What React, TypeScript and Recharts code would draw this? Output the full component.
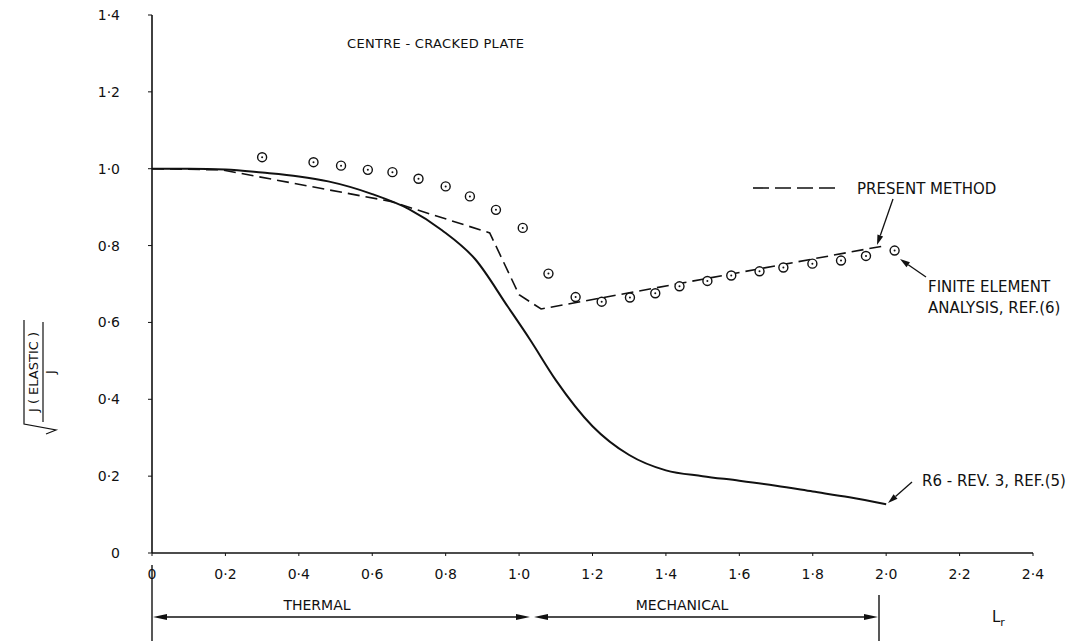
import { ComposedChart, Line, Scatter, XAxis, YAxis } from 'recharts';

// R6 - Rev. 3 curve (solid)
const r6X = [0, 0.1, 0.2, 0.3, 0.4, 0.48, 0.6, 0.7, 0.79, 0.88, 0.97, 1.03, 1.1, 1.2, 1.3, 1.4, 1.5, 1.6, 1.7, 1.8, 1.9, 2.0];
const r6Y = [1.0, 1.0, 0.998, 0.99, 0.98, 0.967, 0.934, 0.895, 0.84, 0.765, 0.64, 0.555, 0.45, 0.33, 0.255, 0.215, 0.2, 0.188, 0.175, 0.16, 0.145, 0.127];

// present method (dashed)
const pmX = [0, 0.19, 0.65, 0.92, 1.0, 1.06, 1.97, 2.0];
const pmY = [1.0, 0.997, 0.915, 0.833, 0.672, 0.635, 0.795, 0.8];

// finite element analysis points
const feX = [0.3, 0.44, 0.515, 0.588, 0.655, 0.726, 0.8, 0.866, 0.937, 1.01, 1.08, 1.154, 1.225, 1.302, 1.371, 1.437, 1.513, 1.578, 1.655, 1.72, 1.799, 1.877, 1.945, 2.023];
const feY = [1.03, 1.017, 1.008, 0.997, 0.991, 0.974, 0.954, 0.928, 0.893, 0.846, 0.727, 0.666, 0.654, 0.665, 0.676, 0.694, 0.708, 0.722, 0.733, 0.743, 0.753, 0.761, 0.773, 0.787];

const xTicks = [0, 0.2, 0.4, 0.6, 0.8, 1.0, 1.2, 1.4, 1.6, 1.8, 2.0, 2.2, 2.4];
const yTicks = [0, 0.2, 0.4, 0.6, 0.8, 1.0, 1.2, 1.4];

const r6Data = r6X.map((x, i) => ({ x, y: r6Y[i] }));
const pmData = pmX.map((x, i) => ({ x, y: pmY[i] }));
const feData = feX.map((x, i) => ({ x, y: feY[i] }));

const FONT = '"DejaVu Sans", sans-serif';
const INK = '#111';

const fmt = (v: number) => (v === 0 ? '0' : v.toFixed(1).replace('.', '·'));

const RingDot = (props: any) => {
  const { cx, cy } = props;
  return (
    <g>
      <circle cx={cx} cy={cy} r={4.5} fill="#fff" stroke={INK} strokeWidth={1.4} />
      <circle cx={cx} cy={cy} r={1} fill={INK} />
    </g>
  );
};

const Arrow = ({ x1, y1, x2, y2, len = 10, w = 3 }: any) => {
  const a = Math.atan2(y2 - y1, x2 - x1);
  const bx = x2 - len * Math.cos(a);
  const by = y2 - len * Math.sin(a);
  const px = -Math.sin(a) * w;
  const py = Math.cos(a) * w;
  return (
    <g>
      <line x1={x1} y1={y1} x2={bx} y2={by} stroke={INK} strokeWidth={1.3} />
      <polygon points={`${x2},${y2} ${bx + px},${by + py} ${bx - px},${by - py}`} fill={INK} />
    </g>
  );
};

export default function App() {
  return (
    <div style={{ position: 'absolute', left: 0, top: 0, width: 1091, height: 641, background: '#fff' }}>
      <ComposedChart
        width={1091}
        height={641}
        margin={{ top: 15, right: 58, bottom: 58, left: 112 }}
      >
        <XAxis
          type="number"
          dataKey="x"
          domain={[0, 2.4]}
          ticks={xTicks}
          tickFormatter={fmt}
          interval={0}
          height={30}
          axisLine={{ stroke: INK, strokeWidth: 1.6 }}
          tickLine={{ stroke: INK }}
          tickSize={3}
          tickMargin={13}
          tick={{ fill: INK, fontSize: 14, fontFamily: FONT }}
        />
        <YAxis
          type="number"
          dataKey="y"
          domain={[0, 1.4]}
          ticks={yTicks}
          tickFormatter={fmt}
          interval={0}
          width={40}
          axisLine={{ stroke: INK, strokeWidth: 1.6 }}
          tickLine={{ stroke: INK }}
          tickSize={4}
          tickMargin={28}
          tick={{ fill: INK, fontSize: 14, fontFamily: FONT }}
        />
        <Line
          data={r6Data}
          dataKey="y"
          type="monotone"
          stroke={INK}
          strokeWidth={2}
          dot={false}
          isAnimationActive={false}
        />
        <Line
          data={pmData}
          dataKey="y"
          type="linear"
          stroke={INK}
          strokeWidth={1.6}
          strokeDasharray="12 6"
          dot={false}
          isAnimationActive={false}
        />
        <Scatter data={feData} dataKey="y" shape={RingDot} isAnimationActive={false} />
      </ComposedChart>

      <svg
        width={1091}
        height={641}
        style={{ position: 'absolute', left: 0, top: 0, pointerEvents: 'none' }}
        fontFamily={FONT}
        fill={INK}
      >
        <text x={347} y={48} fontSize={13} letterSpacing={0.3}>CENTRE - CRACKED PLATE</text>

        <line x1={753} y1={188} x2={840} y2={188} stroke={INK} strokeWidth={1.6} strokeDasharray="16 6" />
        <text x={857} y={194} fontSize={15}>PRESENT METHOD</text>
        <Arrow x1={893} y1={199} x2={877} y2={245} />

        <text x={928} y={292} fontSize={15}>FINITE  ELEMENT</text>
        <text x={928} y={313} fontSize={15}>ANALYSIS,  REF.(6)</text>
        <Arrow x1={926} y1={277} x2={900} y2={259} />

        <text x={922} y={486} fontSize={15}>R6 - REV. 3, REF.(5)</text>
        <Arrow x1={912} y1={482} x2={888} y2={503} />

        {/* y-axis title: sqrt(J(elastic)/J) */}
        <g transform="translate(42,372) rotate(-90)">
          <text x={0} y={-4} fontSize={13} textAnchor="middle">J ( ELASTIC )</text>
          <line x1={-50} y1={1} x2={50} y2={1} stroke={INK} strokeWidth={1.2} />
          <text x={0} y={13} fontSize={13} textAnchor="middle">J</text>
          <polyline points="-62,4 -58,14 -52,-18 52,-18" fill="none" stroke={INK} strokeWidth={1.2} />
        </g>

        {/* bottom ranges */}
        <line x1={152} y1={565} x2={152} y2={641} stroke={INK} strokeWidth={1.4} />
        <line x1={879} y1={595} x2={879} y2={641} stroke={INK} strokeWidth={1.4} />
        <Arrow x1={330} y1={617} x2={153} y2={617} len={14} />
        <Arrow x1={330} y1={617} x2={530} y2={617} len={14} />
        <Arrow x1={700} y1={617} x2={534} y2={617} len={14} />
        <Arrow x1={700} y1={617} x2={878} y2={617} len={14} />
        <text x={317} y={610} fontSize={14} textAnchor="middle">THERMAL</text>
        <text x={682} y={610} fontSize={14} textAnchor="middle">MECHANICAL</text>
        <text x={992} y={622} fontSize={15}>L<tspan fontSize={11} dy={4}>r</tspan></text>
      </svg>
    </div>
  );
}
